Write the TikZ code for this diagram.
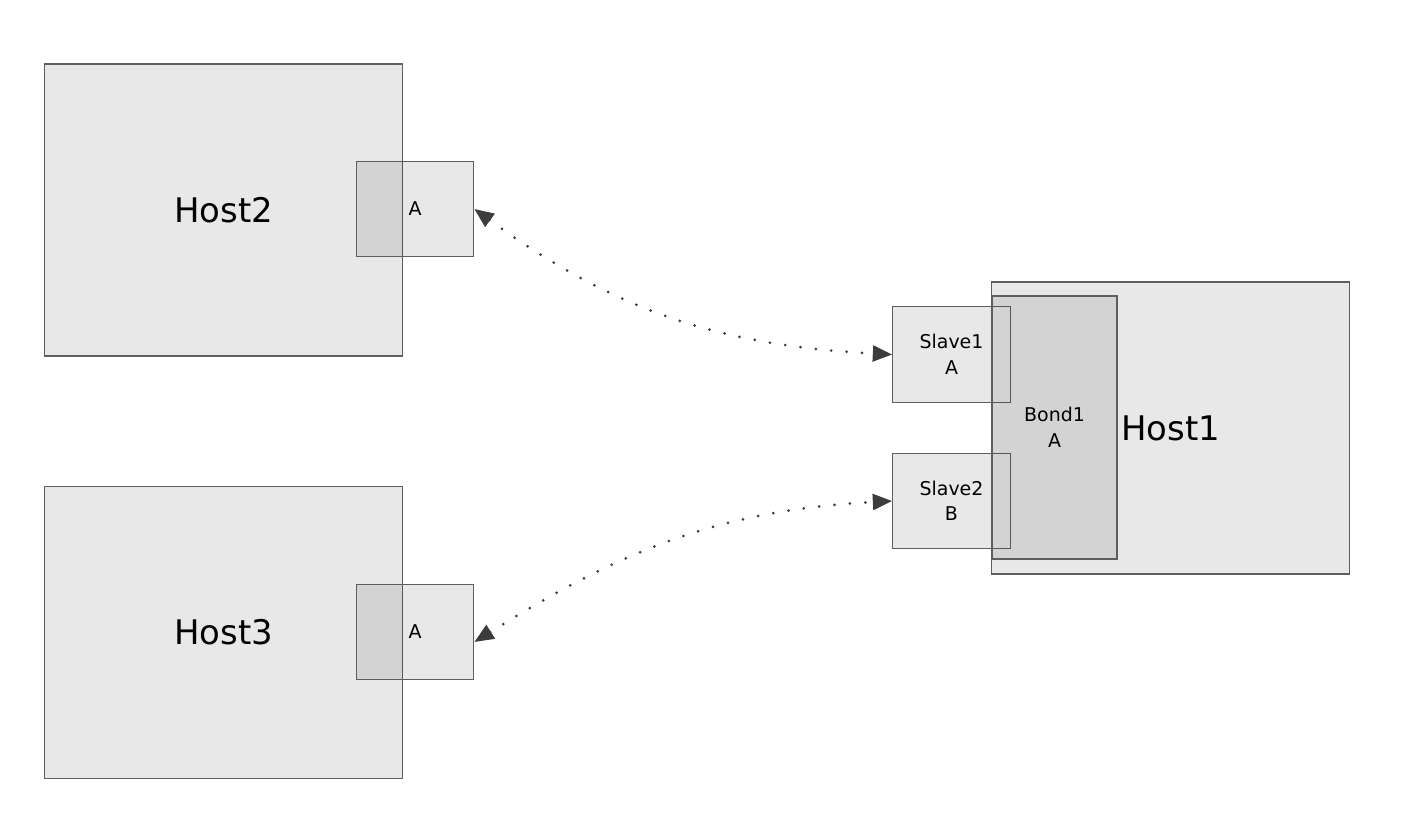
\documentclass[tikz,border=0pt]{standalone}
\usepackage{fontspec}
\setmainfont{DejaVu Sans}
\usepackage{tikz}
\usetikzlibrary{arrows.meta}
\definecolor{boxline}{HTML}{5E5E5E}
\definecolor{linkcol}{HTML}{3C3C3C}

\begin{document}
\begin{tikzpicture}[x=0.02cm, y=-0.02cm,
  box/.style={draw=boxline, line width=0.7pt, fill=black, fill opacity=0.09,
    draw opacity=1, text opacity=1, inner sep=0pt, align=center},
  host/.style={box, minimum width=7.16cm, minimum height=5.84cm,
    font=\fontsize{19.3}{22}\selectfont},
  port/.style={box, minimum width=2.35cm, minimum height=1.91cm,
    font=\fontsize{10.8}{14.5}\selectfont},
  slaveport/.style={port, fill=black!9, fill opacity=1},
  link/.style={draw=linkcol, line width=1.7pt, line cap=round,
    dash pattern=on 0pt off 8.8pt,
    {Triangle[length=11pt,width=9pt]}-{Triangle[length=11pt,width=9pt]}}]
\useasboundingbox (0,0) rectangle (1404,828);
%\draw[help lines] (0,0) grid (1404,828);
\node (h2) [host] at (223.5,210) {Host2};
\node (a2) [port] at (415,209) {A};
\node (h3) [host] at (223.5,632.5) {Host3};
\node (a3) [port] at (415,632) {A};
\node (h1) [host] at (1170.5,428) {Host1};
\node (s1) [slaveport] at (951.5,354.5) {Slave1\\A};
\node (s2) [slaveport] at (951.5,501) {Slave2\\B};
\node (b1) [box, minimum width=2.5cm, minimum height=5.26cm,
  font=\fontsize{10.8}{14.5}\selectfont] at (1054.5,427.5) {Bond1\\A};
\path
(a2.east) edge [link, out=-36, in=177] (s1.west)
([yshift=-0.2cm]a3.east) edge [link, out=32, in=183] (s2.west);
\end{tikzpicture}
\end{document}
